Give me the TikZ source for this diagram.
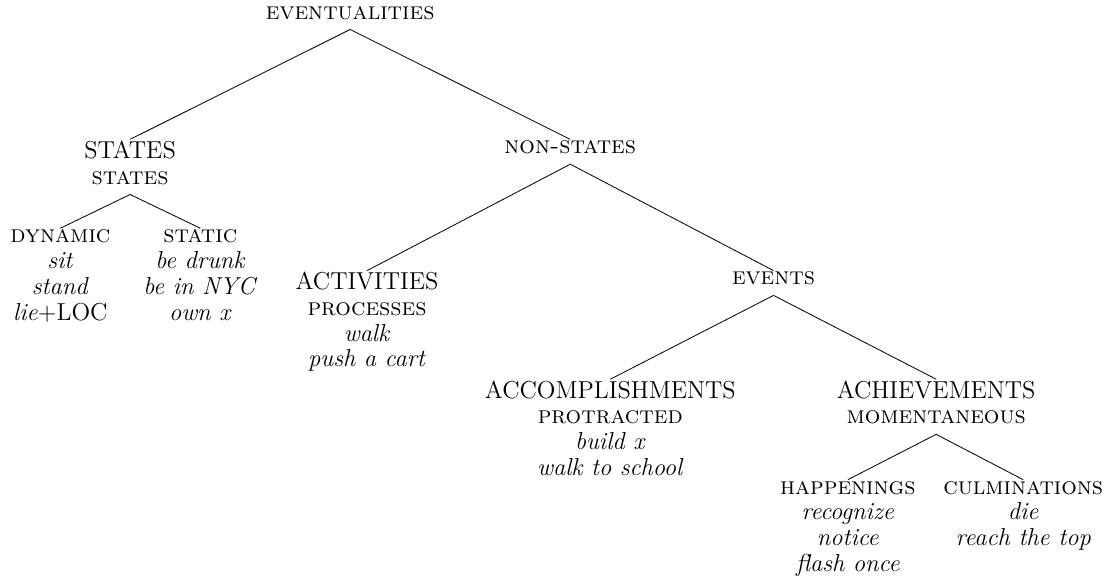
\documentclass[tikz,border=0pt]{standalone}
\usepackage{tikz}
\usepackage{amsmath,amssymb}

\begin{document}
\begin{tikzpicture}[lbl/.style={anchor=north, align=center, inner sep=0.5pt, text depth=4.4pt,
    font=\fontsize{12}{12.65}\selectfont}]

\useasboundingbox (0,0) rectangle (19.20,-10.00);

% Top level
\node[lbl] (ev) at (6.03,-0.08) {\textsc{eventualities}};
\node[lbl] (st) at (2.24,-2.40) {STATES\\ \textsc{states}};
\node[lbl] (ns) at (9.82,-2.40) {\textsc{non-states}};

% States
\node[lbl] (dyn) at (1.04,-3.93) {\textsc{dynamic}\\ \textit{sit}\\ \textit{stand}\\ \textit{lie}+LOC};
\node[lbl] (sta) at (3.45,-3.93) {\textsc{static}\\ \textit{be drunk}\\ \textit{be in NYC}\\ \textit{own x}};

% Non-states
\node[lbl] (act) at (6.32,-4.66) {ACTIVITIES\\ \textsc{processes}\\ \textit{walk}\\ \textit{push a cart}};
\node[lbl] (evs) at (13.32,-4.66) {\textsc{events}};

% Events
\node[lbl] (acc) at (10.51,-6.53) {ACCOMPLISHMENTS\\ \textsc{protracted}\\ \textit{build x}\\ \textit{walk to school}};
\node[lbl] (ach) at (16.12,-6.53) {ACHIEVEMENTS\\ \textsc{momentaneous}};

% Achievements
\node[lbl] (hap) at (14.60,-8.26) {\textsc{happenings}\\ \textit{recognize}\\ \textit{notice}\\ \textit{flash once}};
\node[lbl] (cul) at (17.62,-8.26) {\textsc{culminations}\\ \textit{die}\\ \textit{reach the top}};

% Branches
\foreach \a/\b in {ev/st, ev/ns, st/dyn, st/sta, ns/act, ns/evs, evs/acc, evs/ach, ach/hap, ach/cul}
    \draw (\a.south) -- (\b.north);

\end{tikzpicture}
\end{document}
